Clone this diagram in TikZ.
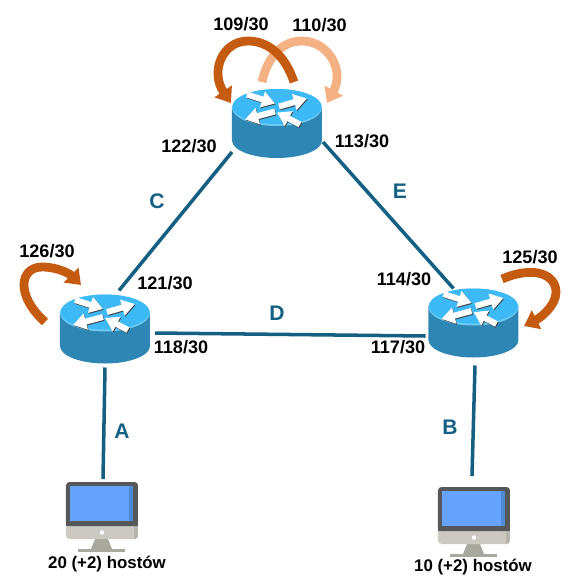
\documentclass[tikz,border=0pt]{standalone}
\usepackage{fontspec}
\setmainfont{Liberation Sans}
\usetikzlibrary{arrows.meta}
\definecolor{linkblue}{HTML}{156082}
\definecolor{loopdark}{HTML}{C55A11}
\definecolor{looplight}{HTML}{F4B183}
\definecolor{lidblue}{HTML}{3DB9F5}
\definecolor{rimblue}{HTML}{6CCBF5}
\definecolor{bodyblue}{HTML}{2E86B5}
\definecolor{bezelgray}{HTML}{555759}
\definecolor{chingray}{HTML}{CBC9C2}
\definecolor{chindark}{HTML}{B5B3AC}
\definecolor{standgray}{HTML}{A9A89F}
\definecolor{screenblue}{HTML}{66A3FF}
\definecolor{screendark}{HTML}{4F8BD4}
\tikzset{
  link/.style={line width=2pt,linkblue},
  portlabel/.style={font=\bfseries\fontsize{10.3}{12}\selectfont,inner sep=0pt},
  linklabel/.style={font=\bfseries\fontsize{12}{14}\selectfont,text=linkblue,inner sep=0pt},
  hostlabel/.style={font=\bfseries\fontsize{9.6}{12}\selectfont,inner sep=0pt},
  loopdarkarrow/.style={line width=5pt,loopdark,-{Triangle[width=11.5pt,length=8pt]}},
  looplightarrow/.style={line width=5pt,looplight,-{Triangle[width=11.5pt,length=8pt]}},
  routerbox/.style={minimum width=1.8cm,minimum height=1.38cm,inner sep=0pt,outer sep=0pt},
  pcbox/.style={minimum width=1.44cm,minimum height=1.4cm,inner sep=0pt,outer sep=0pt},
  pics/router/.style={code={
    % body
    \fill[bodyblue] (-45,-17) -- (-45,17) arc[start angle=180,end angle=0,x radius=45,y radius=17.5] -- (45,-17) -- cycle;
    \fill[rimblue] (0,-16) ellipse[x radius=45,y radius=18.5];
    \fill[lidblue] (0,-17) ellipse[x radius=44.5,y radius=17.5];
    % arrows on the lid
    \foreach \xa/\ya/\xb/\yb in {-30/-29/-2/-20, 2/-17/30/-25, -2/-12/-32/-4, 23/1/0/-11} {
      \draw[black!75,line width=3.4pt,-{Triangle[width=9pt,length=7.5pt]}] (\xa+.7,\ya+.9) -- (\xb+.7,\yb+.9);
      \draw[white,line width=3.4pt,-{Triangle[width=9pt,length=7.5pt]}] (\xa,\ya) -- (\xb,\yb);
    }
  }},
  pics/computer/.style={code={
    % stand
    \fill[standgray] (-7,22) -- (6,22) -- (10,32) -- (-11,32) -- cycle;
    \fill[standgray] (-24,32) rectangle (23,34.5);
    % chin
    \fill[chingray,rounded corners=2pt] (-36,5) rectangle (36,22);
    \fill[chindark,rounded corners=2pt] (30,5) rectangle (36,22);
    \fill[chingray] (30,5) rectangle (32,22);
    \fill[white] (0,15.5) circle[radius=2.2];
    % screen
    \fill[bezelgray,rounded corners=2pt] (-36,-35) rectangle (36,9);
    \fill[bezelgray] (-36,0) rectangle (36,9);
    \fill[screenblue] (-32,-31) rectangle (31,4);
    \fill[screendark] (27,-31) rectangle (31,4);
  }}
}
\begin{document}
\begin{tikzpicture}[x=0.02cm,y=-0.02cm]
    \useasboundingbox (0,0) rectangle (583,583);
    % routers and computers
    \node[routerbox] (Rtop) at (277,123.5) {};
    \node[routerbox] (Rleft) at (105,329) {};
    \node[routerbox] (Rright) at (473.5,323) {};
    \node[pcbox] (pcA) at (102,517) {};
    \node[pcbox] (pcB) at (474,522) {};
    % links
    \draw[link] ([shift={(0,-6)}]Rtop.south west) -- ([shift={(14,-4)}]Rleft.north);
    \draw[link] ([shift={(1,-16)}]Rtop.south east) -- ([shift={(-20,0)}]Rright.north);
    \draw[link] ([shift={(5,4)}]Rleft.east) -- ([shift={(-3,13)}]Rright.west);
    \draw[link] ([shift={(0,4)}]Rleft.south) -- ([shift={(1,-3)}]pcA.north);
    \draw[link] ([shift={(1.5,8)}]Rright.south) -- ([shift={(-2,-11)}]pcB.north);
    \pic at (Rtop) {router};
    \pic at (Rleft) {router};
    \pic at (Rright) {router};
    \pic at (pcA) {computer};
    \pic at (pcB) {computer};
    % loops
    \coordinate (topLightA) at (262,82);
    \coordinate (topLightB) at (327,103);
    \coordinate (topDarkA) at (294,82);
    \coordinate (topDarkB) at (231,103);
    \coordinate (leftA) at (45,322);
    \coordinate (leftB) at (81,285);
    \coordinate (rightA) at (502,279);
    \coordinate (rightB) at (524,326);
    \draw[looplightarrow] (topLightA) .. controls (268,55) and (283,41) .. (302,41) .. controls (328,41) and (345,70) .. (topLightB);
    \draw[loopdarkarrow] (topDarkA) .. controls (285,55) and (268,41) .. (248,41) .. controls (222,41) and (210,72) .. (topDarkB);
    \draw[loopdarkarrow] (leftA) .. controls (15,295) and (20,267) .. (42,267) .. controls (58,267) and (70,274) .. (leftB);
    \draw[loopdarkarrow] (rightA) .. controls (535,265) and (556,275) .. (556,292) .. controls (556,306) and (540,318) .. (rightB);
    % port labels
    \node[portlabel] (p109) at (241,24) {109/30};
    \node[portlabel] (p110) at (319.5,25) {110/30};
    \node[portlabel] (p122) at (189,146) {122/30};
    \node[portlabel] (p113) at (362,141) {113/30};
    \node[portlabel] (p126) at (47,251) {126/30};
    \node[portlabel] (p121) at (165,283) {121/30};
    \node[portlabel] (p118) at (181,347) {118/30};
    \node[portlabel] (p114) at (404,279) {114/30};
    \node[portlabel] (p125) at (530,257) {125/30};
    \node[portlabel] (p117) at (398,347) {117/30};
    % link labels
    \node[linklabel] (lC) at (157,201) {C};
    \node[linklabel] (lE) at (400,191) {E};
    \node[linklabel] (lD) at (277,313) {D};
    \node[linklabel] (lA) at (122,431) {A};
    \node[linklabel] (lB) at (450,427) {B};
    % hosts
    \node[hostlabel] (hA) at (107,564) {20 (+2) hostów};
    \node[hostlabel] (hB) at (473,567) {10 (+2) hostów};
\end{tikzpicture}
\end{document}
